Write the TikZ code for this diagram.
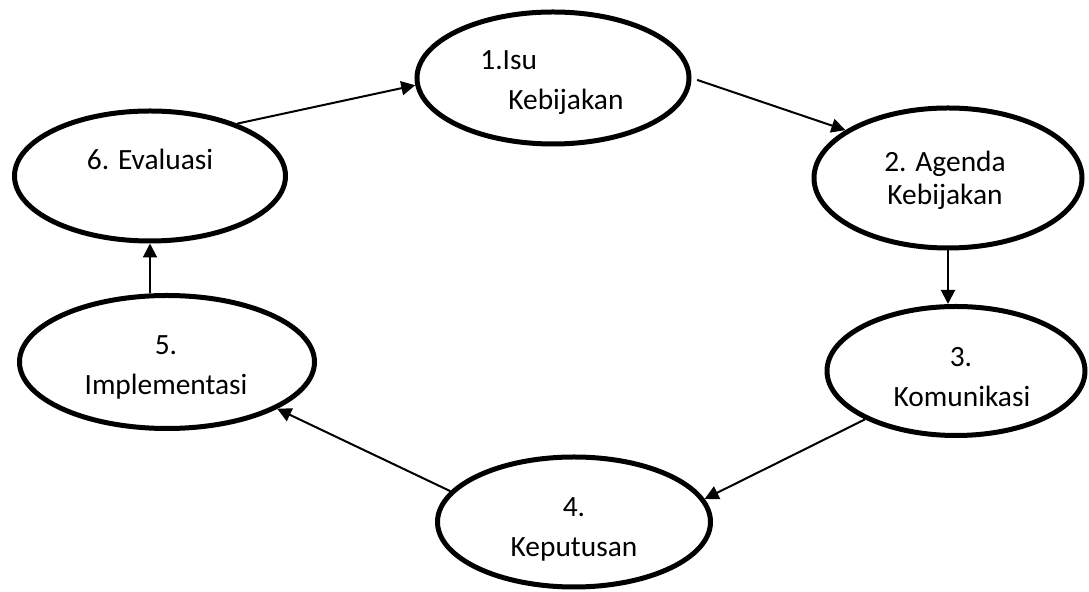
\documentclass[tikz,border=0pt]{standalone}
\usepackage{fontspec}
\setmainfont{Carlito}
\usetikzlibrary{arrows.meta,shapes.geometric}

\begin{document}
\begin{tikzpicture}[
    x=0.5pt, y=-0.5pt,
    stage/.style={draw, ellipse, line width=2.5pt, inner sep=0pt},
    lbl/.style={anchor=base, inner sep=0pt, font=\fontsize{14.7}{17}\selectfont},
    arrow/.style={-{Triangle[length=7pt,width=7pt]}, line width=1pt}
]
\useasboundingbox (0,0) rectangle (1089,592);

% stages of the cycle
\node[stage, minimum width=136pt, minimum height=66pt] (isu) at (553,78) {};
\node[stage, minimum width=134pt, minimum height=70pt] (agenda) at (948,178) {};
\node[stage, minimum width=129pt, minimum height=64.5pt] (komunikasi) at (956,371) {};
\node[stage, minimum width=136.5pt, minimum height=65pt] (keputusan) at (574,522) {};
\node[stage, minimum width=147.5pt, minimum height=66.5pt] (implementasi) at (167,362) {};
\node[stage, minimum width=135.5pt, minimum height=65pt] (evaluasi) at (150,176) {};

% texts
\node[lbl, anchor=base west] (isu-a) at (480,70) {1.Isu};
\node[lbl, anchor=base west] (isu-b) at (508,110) {Kebijakan};
\node[lbl] (agenda-a) at (945,172) {2. Agenda};
\node[lbl] (agenda-b) at (945,205) {Kebijakan};
\node[lbl] (komunikasi-a) at (961,367) {3.};
\node[lbl] (komunikasi-b) at (962,407) {Komunikasi};
\node[lbl] (keputusan-a) at (574,517) {4.};
\node[lbl] (keputusan-b) at (574,557) {Keputusan};
\node[lbl] (implementasi-a) at (166,355) {5.};
\node[lbl] (implementasi-b) at (166,395) {Implementasi};
\node[lbl] (evaluasi-a) at (150,170) {6. Evaluasi};

% arrows
\draw[arrow] (evaluasi.31) -- (isu.183);
\draw[arrow, shorten <=3pt] (isu.0) -- (agenda.155);
\draw[arrow] (agenda.south) -- (agenda.south |- komunikasi.north);
\draw[arrow] (komunikasi.208) -- (keputusan.10);
\draw[arrow] (keputusan.166) -- (implementasi.337);
\draw[arrow] (evaluasi.south |- implementasi.north) -- (evaluasi.south);
\end{tikzpicture}
\end{document}
